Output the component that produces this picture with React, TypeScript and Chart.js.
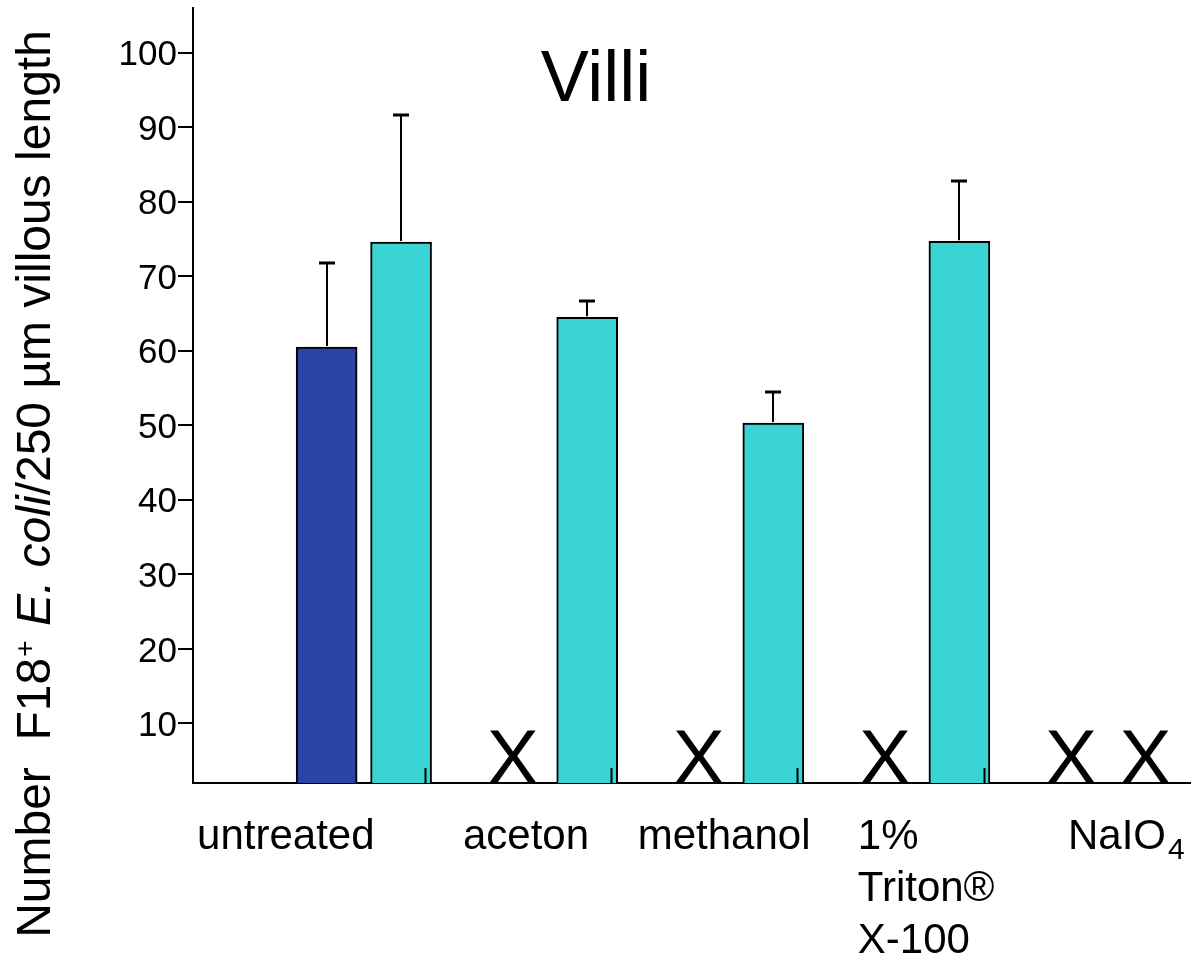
import React, { useEffect, useRef } from 'react';
import { Chart, registerables } from 'chart.js';

Chart.register(...registerables);

// Treatments along the x axis
const treatments = ['untreated', 'aceton', 'methanol', '1% Triton® X-100', 'NaIO4'];
// How each treatment label is broken into lines; "_" starts a subscript run
const treatmentLabelLines = [['untreated'], ['aceton'], ['methanol'], ['1%', 'Triton®', 'X-100'], ['NaIO_4']];

// Bacteria counted per 250 µm villous length (mean, upper error); null = not done, drawn as X
const blueCounts = [60.5, null, null, null, null];
const blueErrors = [11.3, null, null, null, null];
const cyanCounts = [74.6, 64.5, 50.3, 74.7, null];
const cyanErrors = [17.1, 2.2, 4.2, 8.1, null];

const yTickValues = [10, 20, 30, 40, 50, 60, 70, 80, 90, 100];
const chartTitle = 'Villi';
const yTitleParts = [
  { text: 'Number  F18', style: 'normal' },
  { text: '+', style: 'sup' },
  { text: ' ', style: 'normal' },
  { text: 'E. coli', style: 'italic' },
  { text: '/250 µm villous length', style: 'normal' },
];

// ---- styling ----
const FONT = '"Liberation Sans", Arial, Helvetica, sans-serif';
const BLUE = '#2a44a6';
const CYAN = '#3ad4d5';
const SERIES_SHIFT = 0.2; // half the distance between the two bars of a group, in group units
const LABEL_NUDGE = [-78, -24, -12, 4, 18]; // px shift of each treatment label

const toPoints = (vals: (number | null)[], shift: number) =>
  vals.map((v, i) => ({ x: i + shift, y: v }));

const errorBarsPlugin = {
  id: 'errorBars',
  afterDatasetsDraw(chart: any) {
    const { ctx } = chart;
    const yScale = chart.scales.y;
    ctx.save();
    ctx.strokeStyle = '#000';
    ctx.lineWidth = 2;
    chart.data.datasets.forEach((ds: any, di: number) => {
      const meta = chart.getDatasetMeta(di);
      ds.errors.forEach((e: number | null, i: number) => {
        const v = ds.data[i].y;
        if (v == null || e == null) return;
        const x = Math.round(meta.data[i].x);
        const yTop = yScale.getPixelForValue(v);
        const yErr = Math.round(yScale.getPixelForValue(v + e));
        ctx.beginPath();
        ctx.moveTo(x, yTop - 1);
        ctx.lineTo(x, yErr);
        ctx.stroke();
        ctx.lineWidth = 3;
        ctx.beginPath();
        ctx.moveTo(x - 8, yErr);
        ctx.lineTo(x + 8, yErr);
        ctx.stroke();
        ctx.lineWidth = 2;
      });
    });
    ctx.restore();
  },
};

const missingMarksPlugin = {
  id: 'missingMarks',
  afterDatasetsDraw(chart: any) {
    const { ctx, chartArea } = chart;
    const xScale = chart.scales.x;
    ctx.save();
    ctx.fillStyle = '#000';
    ctx.font = `78px ${FONT}`;
    ctx.textAlign = 'center';
    ctx.textBaseline = 'alphabetic';
    chart.data.datasets.forEach((ds: any) => {
      ds.data.forEach((p: any) => {
        if (p.y != null) return;
        ctx.fillText('X', xScale.getPixelForValue(p.x), chartArea.bottom + 1);
      });
    });
    // short upward ticks on the baseline between treatment groups
    ctx.strokeStyle = '#000';
    ctx.lineWidth = 2;
    for (let i = 0; i < treatments.length - 1; i++) {
      const x = Math.round(xScale.getPixelForValue(i + 0.33)) + 0.5;
      ctx.beginPath();
      ctx.moveTo(x, chartArea.bottom);
      ctx.lineTo(x, chartArea.bottom - 15);
      ctx.stroke();
    }
    ctx.restore();
  },
};

const textPlugin = {
  id: 'textDecor',
  afterDraw(chart: any) {
    const { ctx, chartArea } = chart;
    const xScale = chart.scales.x;
    ctx.save();
    ctx.fillStyle = '#000';

    // title inside the plot
    ctx.font = `72px ${FONT}`;
    ctx.textAlign = 'center';
    ctx.textBaseline = 'alphabetic';
    ctx.fillText(chartTitle, chartArea.left + 403, chartArea.top + 93);

    // treatment labels under the axis
    ctx.textAlign = 'left';
    const mainFont = `42px ${FONT}`;
    const subFont = `30px ${FONT}`;
    const lineWidth = (line: string) => {
      const [main, sub] = line.split('_');
      ctx.font = mainFont;
      let w = ctx.measureText(main).width;
      if (sub) {
        ctx.font = subFont;
        w += ctx.measureText(sub).width + 2;
      }
      return w;
    };
    treatmentLabelLines.forEach((lines, i) => {
      const blockW = Math.max(...lines.map(lineWidth));
      const left = xScale.getPixelForValue(i) + LABEL_NUDGE[i] - blockW / 2;
      lines.forEach((line, k) => {
        const base = chartArea.bottom + 66 + k * 52;
        const [main, sub] = line.split('_');
        ctx.font = mainFont;
        ctx.fillText(main, left, base);
        if (sub) {
          const w = ctx.measureText(main).width;
          ctx.font = subFont;
          ctx.fillText(sub, left + w + 2, base + 10);
        }
      });
    });

    // rotated y axis title with superscript and italic runs
    const fontFor = (style: string) =>
      style === 'italic' ? `italic 48px ${FONT}` : style === 'sup' ? `28px ${FONT}` : `48px ${FONT}`;
    let total = 0;
    yTitleParts.forEach((p) => {
      ctx.font = fontFor(p.style);
      total += ctx.measureText(p.text).width + (p.style === 'sup' ? 2 : 0);
    });
    ctx.translate(50, 484);
    ctx.rotate(-Math.PI / 2);
    let cx = -total / 2;
    yTitleParts.forEach((p) => {
      ctx.font = fontFor(p.style);
      ctx.fillText(p.text, cx + (p.style === 'sup' ? 1 : 0), p.style === 'sup' ? -16 : 0);
      cx += ctx.measureText(p.text).width + (p.style === 'sup' ? 2 : 0);
    });
    ctx.restore();
  },
};

export default function App() {
  const canvasRef = useRef<HTMLCanvasElement | null>(null);

  useEffect(() => {
    document.body.style.margin = '0';
    const canvas = canvasRef.current;
    if (!canvas) return;

    const barStyle = {
      borderColor: '#000',
      borderWidth: 2,
      borderSkipped: false as const,
      barThickness: 61,
      grouped: false,
    };

    const chart = new Chart(canvas, {
      type: 'bar',
      data: {
        datasets: [
          {
            label: 'blue',
            data: toPoints(blueCounts, -SERIES_SHIFT) as any,
            backgroundColor: BLUE,
            errors: blueErrors,
            ...barStyle,
          } as any,
          {
            label: 'cyan',
            data: toPoints(cyanCounts, SERIES_SHIFT) as any,
            backgroundColor: CYAN,
            errors: cyanErrors,
            ...barStyle,
          } as any,
        ],
      },
      options: {
        animation: false,
        responsive: false,
        devicePixelRatio: 1,
        layout: { padding: { top: 8, right: 2, left: 0, bottom: 0 } },
        plugins: {
          legend: { display: false },
          tooltip: { enabled: false },
          title: { display: false },
        },
        scales: {
          x: {
            type: 'linear',
            min: -0.918,
            max: 4.439,
            offset: false,
            grid: { display: false },
            ticks: { display: false },
            border: { display: true, color: '#000', width: 2 },
            afterFit: (scale: any) => {
              scale.height = 171;
              scale.paddingLeft = 0;
              scale.paddingRight = 0;
            },
          },
          y: {
            type: 'linear',
            min: 2,
            max: 106,
            afterBuildTicks: (scale: any) => {
              scale.ticks = yTickValues.map((v) => ({ value: v }));
            },
            afterFit: (scale: any) => {
              scale.width = 193;
              scale.paddingTop = 0;
              scale.paddingBottom = 0;
            },
            grid: {
              drawOnChartArea: false,
              drawTicks: true,
              tickLength: 15,
              color: '#000',
              lineWidth: 2,
            },
            border: { display: true, color: '#000', width: 2 },
            ticks: {
              color: '#000',
              padding: 1,
              labelOffset: 3,
              font: { family: FONT, size: 35 },
            },
          },
        },
      } as any,
      plugins: [errorBarsPlugin, missingMarksPlugin, textPlugin],
    });

    return () => chart.destroy();
  }, []);

  return (
    <div style={{ width: 1192, height: 954, position: 'relative', background: '#fff' }}>
      <canvas ref={canvasRef} width={1192} height={954} />
    </div>
  );
}
